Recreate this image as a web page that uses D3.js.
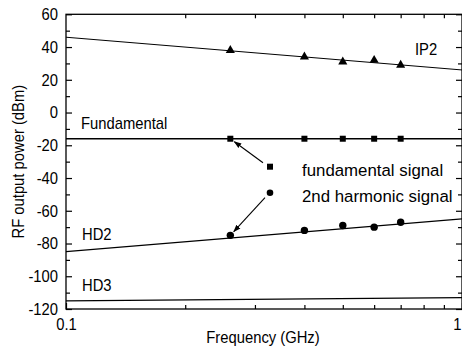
<!DOCTYPE html>
<html><head><meta charset="utf-8">
<script src="https://cdn.jsdelivr.net/npm/d3@7"></script>
<style>
html,body{margin:0;padding:0;background:#fff;}
svg{display:block;font-family:"Liberation Sans",Arial,Helvetica,sans-serif;}
</style></head>
<body>
<script>
// ---- data ----
const freqs = [0.26, 0.4, 0.5, 0.6, 0.7];           // GHz
const ip2 = [38, 34, 31, 32, 29];                    // dBm (triangles)
const fundamental = [-16, -16, -16, -16, -16];       // dBm (squares)
const hd2 = [-75, -72, -69, -70, -67];               // dBm (circles)
const fitFreqs = [0.1, 1];
const ip2Fit = [46, 26];
const fundFit = [-16, -16];
const hd2Fit = [-85, -65];
const hd3Fit = [-115, -113];
const yTicks = [-120, -100, -80, -60, -40, -20, 0, 20, 40, 60];
const yMinor = d3.range(-110, 60, 20);
const xMajor = [0.1, 1];
const xMinor = [0.2, 0.3, 0.4, 0.5, 0.6, 0.7, 0.8, 0.9];
const legendItems = ["fundamental signal", "2nd harmonic signal"];

const W = 462, H = 349;
const L = 66, R = 462, T = 14.3, B = 309;
const SX = 0.87;   // horizontal condensation of the narrow typeface
const svg = d3.select("body").append("svg").attr("width", W).attr("height", H);

const x = d3.scaleLog().domain([0.1, 1]).range([L, R]);
const y = d3.scaleLinear().domain([-120, 60]).range([B, T]);

svg.append("defs").append("clipPath").attr("id", "clip")
  .append("rect").attr("x", L).attr("y", T).attr("width", R - L).attr("height", B - T);
svg.select("defs").append("marker").attr("id", "arr")
  .attr("viewBox", "0 0 10 10").attr("refX", 9).attr("refY", 5)
  .attr("markerWidth", 7).attr("markerHeight", 7).attr("orient", "auto")
  .append("path").attr("d", "M0,1.5 L10,5 L0,8.5 Z").attr("fill", "#000");

// frame
svg.append("rect").attr("x", L).attr("y", T).attr("width", R - L).attr("height", B - T)
  .attr("fill", "none").attr("stroke", "#000").attr("stroke-width", 1.3);

// axes (inward ticks)
const fmt = d => d;
const yAx = svg.append("g").attr("transform", `translate(${L},0)`)
  .call(d3.axisLeft(y).tickValues(yTicks).tickSize(-6).tickPadding(8).tickFormat(fmt));
svg.append("g").attr("transform", `translate(${L},0)`)
  .call(d3.axisLeft(y).tickValues(yMinor).tickSize(-4).tickFormat(""));
svg.append("g").attr("transform", `translate(${R},0)`)
  .call(d3.axisRight(y).tickValues(yTicks).tickSize(-6).tickFormat(""));
svg.append("g").attr("transform", `translate(${R},0)`)
  .call(d3.axisRight(y).tickValues(yMinor).tickSize(-4).tickFormat(""));
const xAx = svg.append("g").attr("transform", `translate(0,${B})`)
  .call(d3.axisBottom(x).tickValues(xMajor).tickSize(-6).tickPadding(9).tickFormat(d3.format("")));
svg.append("g").attr("transform", `translate(0,${B})`)
  .call(d3.axisBottom(x).tickValues(xMinor).tickSize(-4).tickFormat(""));
svg.append("g").attr("transform", `translate(0,${T})`)
  .call(d3.axisTop(x).tickValues(xMinor).tickSize(-4).tickFormat(""));
svg.selectAll(".domain").remove();
svg.selectAll(".tick line").attr("stroke", "#000").attr("stroke-width", 1.2);
svg.selectAll(".tick text").attr("font-size", 17).attr("fill", "#000")
  .attr("font-family", "'Liberation Sans',Arial,sans-serif")
  .attr("transform", `scale(${SX},1)`);
yAx.selectAll(".tick text").attr("x", -8 / SX);
// keep the "1" label inside the window
xAx.selectAll(".tick").filter(d => d === 1).select("text").attr("text-anchor", "end").attr("x", -1 / SX);

// condensed text helper
const ctext = (t, px, py, size, s, anchor) => svg.append("text")
  .attr("transform", `translate(${px},${py}) scale(${s},1)`)
  .attr("text-anchor", anchor || "start").attr("font-size", size).attr("fill", "#000").text(t);

// axis titles
ctext("Frequency (GHz)", (L + R) / 2 - 1, 343, 17, SX, "middle");
svg.append("text").attr("transform", `translate(24,${(T + B) / 2}) rotate(-90) scale(${SX},1)`)
  .attr("text-anchor", "middle").attr("font-size", 17).text("RF output power (dBm)");

// fit lines
const g = svg.append("g").attr("clip-path", "url(#clip)");
const line = d3.line().x(d => x(d[0])).y(d => y(d[1]));
[[ip2Fit, 1], [fundFit, 1.4], [hd2Fit, 1.3], [hd3Fit, 1.3]].forEach(([vals, sw]) => {
  g.append("path").datum(fitFreqs.map((f, i) => [f, vals[i]]))
    .attr("d", line).attr("fill", "none").attr("stroke", "#000").attr("stroke-width", sw);
});

// markers
const tri = d3.symbol().type(d3.symbolTriangle).size(36);
g.selectAll(".tri").data(freqs.map((f, i) => [f, ip2[i]])).join("path")
  .attr("d", tri).attr("transform", d => `translate(${x(d[0])},${y(d[1])})`).attr("fill", "#000");
g.selectAll(".sq").data(freqs.map((f, i) => [f, fundamental[i]])).join("rect")
  .attr("x", d => x(d[0]) - 3).attr("y", d => y(d[1]) - 3).attr("width", 6).attr("height", 6).attr("fill", "#000");
g.selectAll(".ci").data(freqs.map((f, i) => [f, hd2[i]])).join("circle")
  .attr("cx", d => x(d[0])).attr("cy", d => y(d[1])).attr("r", 3.7).attr("fill", "#000");

// labels
ctext("IP2", 415, 55, 17, SX);
ctext("Fundamental", 81, 129, 17, SX);
ctext("HD2", 82, 240, 17, SX);
ctext("HD3", 82, 291, 17, SX);

// legend
const lx = 270, ly = [166.7, 192.7];
svg.append("rect").attr("x", lx - 3).attr("y", ly[0] - 3).attr("width", 6).attr("height", 6).attr("fill", "#000");
svg.append("circle").attr("cx", lx).attr("cy", ly[1]).attr("r", 3.3).attr("fill", "#000");
legendItems.forEach((t, i) => ctext(t, 302, ly[i] + 9.5, 17, 0.99));

// arrows from legend markers to the first data points
const arrow = (sx, sy, f, v) => {
  const tx = x(f), ty = y(v);
  const dx = tx - sx, dy = ty - sy, len = Math.hypot(dx, dy);
  svg.append("line").attr("x1", sx).attr("y1", sy)
    .attr("x2", tx - dx / len * 5).attr("y2", ty - dy / len * 5)
    .attr("stroke", "#000").attr("stroke-width", 1.1).attr("marker-end", "url(#arr)");
};
arrow(lx - 7, ly[0] - 4, freqs[0], fundamental[0]);
arrow(lx - 5, ly[1] + 5, freqs[0], hd2[0]);
</script>
</body></html>
